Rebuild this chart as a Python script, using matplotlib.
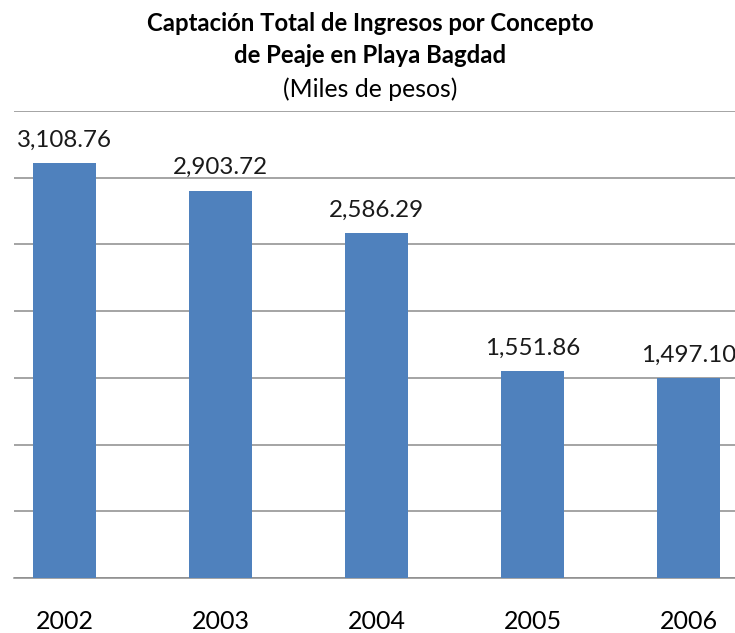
import numpy as np
import matplotlib
matplotlib.use("Agg")
import matplotlib.pyplot as plt

# data (miles de pesos)
years = ["2002", "2003", "2004", "2005", "2006"]
ingresos = [3108.76, 2903.72, 2586.29, 1551.86, 1497.10]
labels = ["3,108.76", "2,903.72", "2,586.29", "1,551.86", "1,497.10"]

plt.rcParams['font.family'] = ['Lato', 'DejaVu Sans']

W, H = 735, 633
fig = plt.figure(figsize=(W / 100, H / 100), dpi=100)
# plot area in pixels: x 14..735, y 111..578
ax = fig.add_axes([14 / W, 55 / H, 721 / W, 467 / H])

x = np.arange(len(years))
bars = ax.bar(x, ingresos, width=0.404, color="#4F81BD", zorder=3)

ax.set_ylim(0, 3500)
ax.set_xlim(-0.324, 4.298)
ax.set_yticks(np.arange(0, 3501, 500))
ax.yaxis.grid(True, color="#8c8c8c", linewidth=1.1, zorder=0)
ax.tick_params(axis='y', left=False, labelleft=False)
ax.set_xticks(x)
ax.set_xticklabels(years, fontsize=18)
ax.tick_params(axis='x', length=0, pad=23, colors="#000000")
for s in ["top", "right", "left"]:
    ax.spines[s].set_visible(False)
ax.spines["bottom"].set_color("#8c8c8c")
ax.spines["bottom"].set_linewidth(1.1)

for xi, v, lab in zip(x, ingresos, labels):
    ax.annotate(lab, (xi, v), xytext=(0, 9), textcoords="offset points",
                ha="center", va="bottom", fontsize=17.4, color="#1a1a1a",
                annotation_clip=False)

fig.text(370 / W, 1 - 31 / H, "Captación Total de Ingresos por Concepto",
         ha="center", va="baseline", fontsize=17.2, fontweight="bold")
fig.text(370 / W, 1 - 63 / H, "de Peaje en Playa Bagdad",
         ha="center", va="baseline", fontsize=17.2, fontweight="bold")
fig.text(370 / W, 1 - 97 / H, "(Miles de pesos)",
         ha="center", va="baseline", fontsize=17.8)

fig.savefig("out.png", dpi=100)
